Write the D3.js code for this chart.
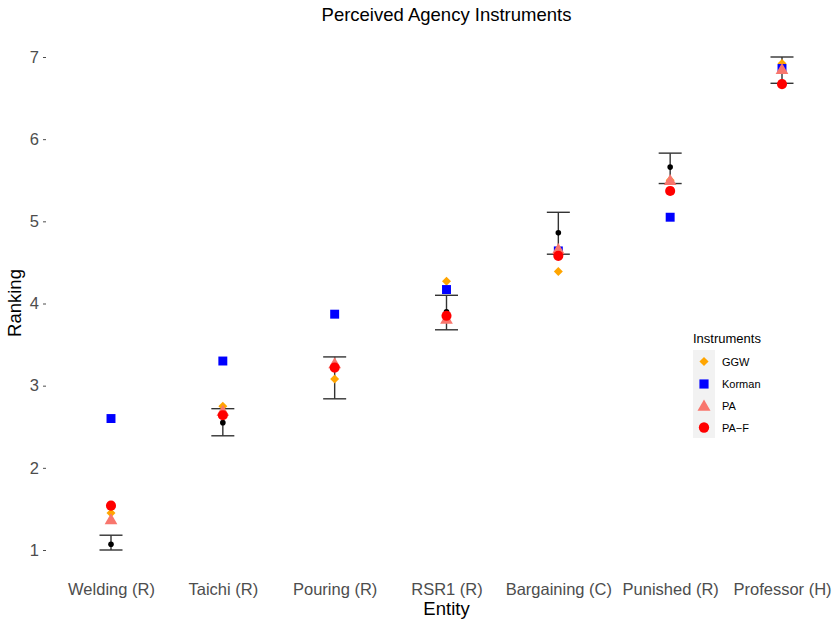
<!DOCTYPE html>
<html><head><meta charset="utf-8">
<script src="https://cdn.jsdelivr.net/npm/d3@7/dist/d3.min.js"></script>
<style>body{margin:0;background:#fff}svg{font-family:"Liberation Sans",Arial,sans-serif}</style>
</head><body>
<svg id="c" width="836" height="623"></svg>
<script>
const categories = ["Welding (R)","Taichi (R)","Pouring (R)","RSR1 (R)","Bargaining (C)","Punished (R)","Professor (H)"];
const meanValues = [1.07, 2.55, 3.20, 3.90, 4.86, 5.66, 6.84];
const errLow     = [1.00, 2.39, 2.84, 3.68, 4.60, 5.46, 6.68];
const errHigh    = [1.18, 2.72, 3.35, 4.10, 5.11, 5.83, 7.00];
const ggw        = [1.45, 2.75, 3.08, 4.27, 4.39, 5.50, 6.92];
const korman     = [2.60, 3.30, 3.87, 4.17, 4.64, 5.05, 6.86];
const pa         = [1.37, 2.69, 3.27, 3.81, 4.66, 5.50, 6.85];
const paf        = [1.54, 2.64, 3.22, 3.85, 4.58, 5.37, 6.67];
const yTicks = [1,2,3,4,5,6,7];
const seriesNames = ["GGW","Korman","PA","PA\u2212F"];

const svg = d3.select("#c");
const x = d3.scalePoint().domain(categories).range([111, 782]);
const y = d3.scaleLinear().domain([1,7]).range([550, 57]);

const series = [
  {name: seriesNames[0], vals: ggw, color:"#FFA500", sym:d3.symbolSquare, size:40, rot:45, dy:0},
  {name: seriesNames[1], vals: korman, color:"#0000FF", sym:d3.symbolSquare, size:80, rot:0, dy:0},
  {name: seriesNames[2], vals: pa, color:"#F8766D", sym:d3.symbolTriangle, size:70, rot:0, dy:1},
  {name: seriesNames[3], vals: paf, color:"#FF0000", sym:d3.symbolCircle, size:80, rot:0, dy:0}
];

// title
svg.append("text").attr("x",446.5).attr("y",21).attr("text-anchor","middle")
  .attr("font-size",18.5).attr("fill","#000").text("Perceived Agency Instruments");

// y axis
const yAxis = d3.axisLeft(y).tickValues(yTicks).tickSize(3).tickPadding(4).tickFormat(d3.format("d"));
const ya = svg.append("g").attr("transform","translate(46,0)").call(yAxis);
ya.select(".domain").remove();
ya.selectAll(".tick line").attr("stroke","#4d4d4d");
ya.selectAll(".tick text").attr("fill","#4d4d4d").attr("font-size",16.5).attr("font-family","Liberation Sans, Arial, sans-serif");

// x axis
const xAxis = d3.axisBottom(x).tickSize(0).tickPadding(4);
const xa = svg.append("g").attr("transform","translate(0,579)").call(xAxis);
xa.select(".domain").remove();
xa.selectAll(".tick text").attr("fill","#4d4d4d").attr("font-size",16.5).attr("font-family","Liberation Sans, Arial, sans-serif");

// axis titles
svg.append("text").attr("x",446.5).attr("y",615).attr("text-anchor","middle").attr("font-size",18.5).text("Entity");
svg.append("text").attr("transform","translate(21,303) rotate(-90)").attr("text-anchor","middle").attr("font-size",18.5).text("Ranking");

// error bars
const eb = svg.append("g").attr("stroke","#333").attr("stroke-width",1.4);
categories.forEach((c,i)=>{
  const cx = x(c);
  eb.append("line").attr("x1",cx).attr("x2",cx).attr("y1",y(errLow[i])).attr("y2",y(errHigh[i]));
  eb.append("line").attr("x1",cx-11.5).attr("x2",cx+11.5).attr("y1",y(errLow[i])).attr("y2",y(errLow[i]));
  eb.append("line").attr("x1",cx-11.5).attr("x2",cx+11.5).attr("y1",y(errHigh[i])).attr("y2",y(errHigh[i]));
});
// mean points
svg.append("g").selectAll("circle").data(categories).join("circle")
  .attr("cx",d=>x(d)).attr("cy",(d,i)=>y(meanValues[i])).attr("r",2.8).attr("fill","#000");

// series points
series.forEach(s=>{
  const gen = d3.symbol().type(s.sym).size(s.size);
  svg.append("g").selectAll("path").data(categories).join("path")
    .attr("d",gen())
    .attr("transform",(d,i)=>`translate(${x(d)},${y(s.vals[i]) + s.dy}) rotate(${s.rot})`)
    .attr("fill",s.color);
});

// legend
const lg = svg.append("g");
lg.append("text").attr("x",693).attr("y",343).attr("font-size",13).text("Instruments");
const keyY = [361.5, 384, 406, 427.5];
lg.append("rect").attr("x",693).attr("y",350).attr("width",22).attr("height",88).attr("fill","#f2f2f2");
series.forEach((s,i)=>{
  const gen = d3.symbol().type(s.sym).size(s.size*1.05);
  lg.append("path").attr("d",gen()).attr("fill",s.color)
    .attr("transform",`translate(704,${keyY[i] + s.dy}) rotate(${s.rot})`);
  lg.append("text").attr("x",722).attr("y",keyY[i]+4).attr("font-size",11).attr("fill","#000").text(s.name);
});
</script>
</body></html>
